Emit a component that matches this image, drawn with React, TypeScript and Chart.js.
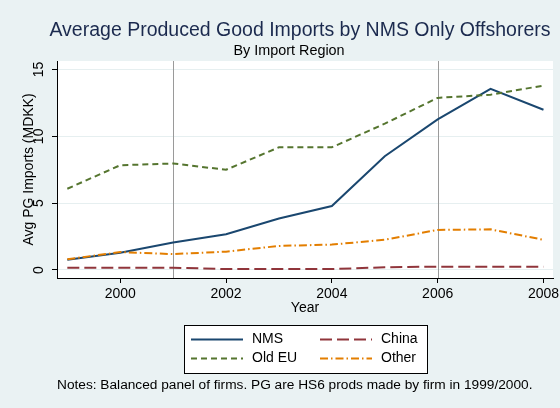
import React, { useEffect, useRef } from "react";
import { Chart, registerables } from "chart.js";

Chart.register(...registerables);

const FONT = "'Liberation Sans', Arial, Helvetica, sans-serif";

const TITLE = "Average Produced Good Imports by NMS Only Offshorers";
const SUBTITLE = "By Import Region";
const X_TITLE = "Year";
const Y_TITLE = "Avg PG Imports (MDKK)";
const NOTE = "Notes: Balanced panel of firms. PG are HS6 prods made by firm in 1999/2000.";

const years = [1999, 2000, 2001, 2002, 2003, 2004, 2005, 2006, 2007, 2008];
const nms = [0.77, 1.29, 2.06, 2.68, 3.85, 4.79, 8.51, 11.27, 13.55, 11.99];
const china = [0.17, 0.17, 0.17, 0.07, 0.07, 0.07, 0.2, 0.25, 0.25, 0.25];
const oldEU = [6.08, 7.84, 7.97, 7.5, 9.18, 9.18, 10.95, 12.88, 13.12, 13.8];
const other = [0.8, 1.34, 1.19, 1.37, 1.8, 1.9, 2.26, 3.0, 3.04, 2.26];

const seriesNames = ["NMS", "China", "Old EU", "Other"];
const seriesValues = [nms, china, oldEU, other];
const seriesColors = ["#1a476f", "#90353b", "#55752f", "#e37e00"];
const seriesDashes: number[][] = [[], [12, 5], [6, 4], [8, 3, 1.5, 3]];

const xTicks = [2000, 2002, 2004, 2006, 2008];
const xTickLabels = ["2000", "2002", "2004", "2006", "2008"];
const yTicks = [0, 5, 10, 15];
const yTickLabels = ["0", "5", "10", "15"];
const refYears = [2001, 2006];

const BG = "#eaf2f3";

const bgPlugin = {
  id: "bgPlugin",
  beforeDraw(chart: any) {
    const { ctx, chartArea: a, width, height } = chart;
    ctx.save();
    ctx.fillStyle = BG;
    ctx.fillRect(0, 0, width, height);
    ctx.fillStyle = "#ffffff";
    ctx.fillRect(a.left, a.top, a.right - a.left, a.bottom - a.top);
    ctx.restore();
  },
  beforeDatasetsDraw(chart: any) {
    const { ctx, chartArea: a } = chart;
    const xs = chart.scales.x;
    ctx.save();
    ctx.strokeStyle = "#9a9a9a";
    ctx.lineWidth = 1;
    refYears.forEach((yr) => {
      const px = Math.round(xs.getPixelForValue(yr)) + 0.5;
      ctx.beginPath();
      ctx.moveTo(px, a.top);
      ctx.lineTo(px, a.bottom);
      ctx.stroke();
    });
    ctx.restore();
  },
  afterDraw(chart: any) {
    const { ctx } = chart;
    ctx.save();
    // titles
    ctx.textBaseline = "alphabetic";
    ctx.textAlign = "center";
    ctx.fillStyle = "#1b2a4e";
    ctx.font = `19.5px ${FONT}`;
    ctx.fillText(TITLE, 300, 36);
    ctx.fillStyle = "#000000";
    ctx.font = `14.4px ${FONT}`;
    ctx.fillText(SUBTITLE, 289, 54.5);
    // legend box
    const bx = 184.5, by = 325.5, bw = 243, bh = 48;
    ctx.fillStyle = "#ffffff";
    ctx.fillRect(bx, by, bw, bh);
    ctx.strokeStyle = "#000000";
    ctx.lineWidth = 1;
    ctx.strokeRect(bx, by, bw, bh);
    const colX = [191, 320];
    const rowY = [339.5, 358.5];
    ctx.font = `14px ${FONT}`;
    ctx.textBaseline = "middle";
    ctx.textAlign = "left";
    chart.data.datasets.forEach((ds: any, i: number) => {
      const cx = colX[i % 2];
      const cy = rowY[Math.floor(i / 2)];
      ctx.strokeStyle = ds.borderColor;
      ctx.lineWidth = ds.borderWidth;
      ctx.setLineDash(ds.borderDash || []);
      ctx.beginPath();
      ctx.moveTo(cx, cy);
      ctx.lineTo(cx + 52, cy);
      ctx.stroke();
      ctx.setLineDash([]);
      ctx.fillStyle = "#000000";
      ctx.fillText(ds.label, cx + 61, cy);
    });
    // note
    ctx.font = `13.7px ${FONT}`;
    ctx.fillStyle = "#000000";
    ctx.textAlign = "left";
    ctx.textBaseline = "middle";
    ctx.fillText(NOTE, 57, 385);
    ctx.restore();
  },
};

export default function App() {
  const canvasRef = useRef<HTMLCanvasElement | null>(null);

  useEffect(() => {
    const canvas = canvasRef.current;
    if (!canvas) return;
    Chart.defaults.font.family = FONT;
    const datasets = seriesNames.map((name, i) => ({
      label: name,
      data: years.map((yr, j) => ({ x: yr, y: seriesValues[i][j] })),
      borderColor: seriesColors[i],
      backgroundColor: seriesColors[i],
      borderWidth: 2,
      borderDash: seriesDashes[i],
      pointRadius: 0,
      tension: 0,
      fill: false,
      order: seriesNames.length - i,
    }));
    const chart = new Chart(canvas, {
      type: "line",
      data: { datasets },
      plugins: [bgPlugin],
      options: {
        animation: false,
        responsive: false,
        devicePixelRatio: 1,
        layout: { padding: { left: 0, right: 7, top: 61, bottom: 91.6 } },
        plugins: {
          legend: { display: false },
          tooltip: { enabled: false },
          title: { display: false },
          subtitle: { display: false },
        },
        scales: {
          x: {
            type: "linear",
            min: 1998.805,
            max: 2008.18,
            afterBuildTicks: (s: any) => {
              s.ticks = xTicks.map((v) => ({ value: v }));
            },
            afterFit: (s: any) => {
              s.height = 38.4;
              s.paddingLeft = 0;
              s.paddingRight = 0;
            },
            ticks: {
              callback: (v: any) => {
                const k = xTicks.indexOf(Number(v));
                return k >= 0 ? xTickLabels[k] : "";
              },
              color: "#000000",
              font: { family: FONT, size: 14 },
              padding: 3,
              minRotation: 0,
              maxRotation: 0,
              autoSkip: false,
            },
            grid: {
              drawOnChartArea: false,
              color: "#000000",
              tickColor: "#000000",
              tickLength: 5,
            },
            border: { color: "#000000", width: 1 },
            title: {
              display: true,
              text: X_TITLE,
              color: "#000000",
              font: { family: FONT, size: 14 },
              padding: { top: 0, bottom: 0 },
            },
          },
          y: {
            type: "linear",
            min: -0.6,
            max: 15.64,
            afterBuildTicks: (s: any) => {
              s.ticks = yTicks.map((v) => ({ value: v }));
            },
            afterFit: (s: any) => {
              s.width = 57;
              s.paddingTop = 0;
              s.paddingBottom = 0;
            },
            ticks: {
              callback: (v: any) => {
                const k = yTicks.indexOf(Number(v));
                return k >= 0 ? yTickLabels[k] : "";
              },
              color: "#000000",
              font: { family: FONT, size: 14 },
              padding: 5,
              minRotation: 90,
              maxRotation: 90,
              crossAlign: "center",
              autoSkip: false,
            },
            grid: {
              color: "#e6eff0",
              tickColor: "#000000",
              tickLength: 5,
              lineWidth: 1,
            },
            border: { color: "#000000", width: 1 },
            title: {
              display: true,
              text: Y_TITLE,
              color: "#000000",
              font: { family: FONT, size: 14 },
              padding: { top: 21, bottom: 0 },
            },
          },
        },
      },
    } as any);
    return () => chart.destroy();
  }, []);

  return (
    <div style={{ position: "absolute", left: 0, top: 0, width: 560, height: 408, background: BG }}>
      <canvas ref={canvasRef} width={560} height={408} style={{ display: "block" }} />
    </div>
  );
}
